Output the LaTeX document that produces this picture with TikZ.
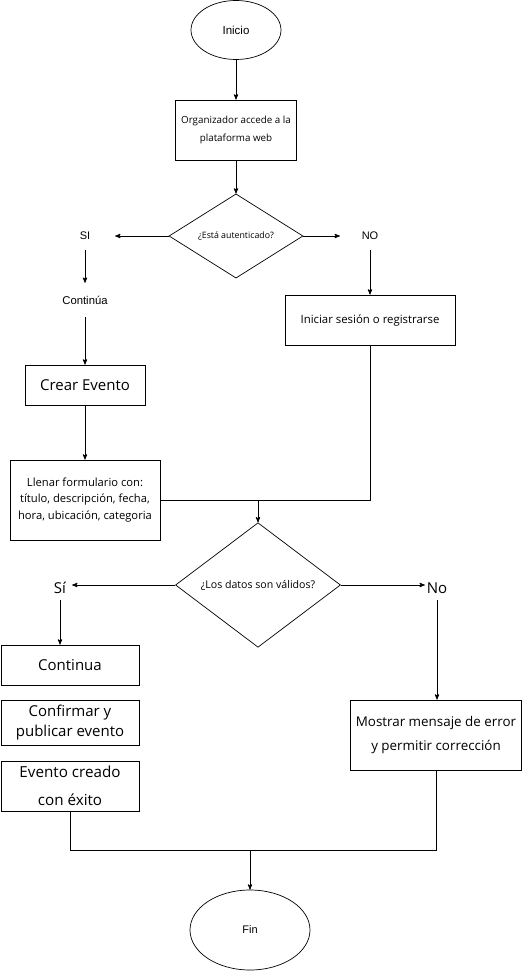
\documentclass[tikz,border=0pt]{standalone}
\usepackage{fontspec}
\setmainfont{Open Sans}
\newfontfamily\helv{Liberation Sans}
\usetikzlibrary{shapes.geometric, arrows}
\tikzset{
  block/.style={
    rectangle,
    draw=black,
    line width=0.9pt,
    inner sep=0pt,
    align=center
  },
  decision/.style={diamond, draw=black, line width=0.7pt, inner sep=0pt, align=center},
  terminal/.style={ellipse, draw=black, line width=0.7pt, inner sep=0pt},
  tag/.style={inner sep=0pt, align=center}
}
\tikzstyle{arrow} = [->, > = stealth', line width=0.9pt]
\def\txt#1#2{\fontsize{#1}{#2}\selectfont}

\begin{document}
\begin{tikzpicture}[x=1pt, y=-1pt]
    \useasboundingbox (0,0) rectangle (528,971);
    \node[terminal, minimum width=90, minimum height=59, font=\helv\txt{11.5}{14}] (b0) at (236,30) {Inicio};
    \node[block, minimum width=121, minimum height=60, font=\txt{9.8}{18}] (b1) at (236,130) {Organizador accede a la\\plataforma web};
    \node[decision, minimum width=134, minimum height=79, font=\txt{8.8}{11}] (d0) at (236,236) {¿Está autenticado?};
    \node[tag, minimum width=60, minimum height=28, font=\helv\txt{11}{13}] (si) at (85,236) {SI};
    \node[tag, minimum width=60, minimum height=28, font=\helv\txt{11}{13}] (no) at (370,236) {NO};
    \node[tag, minimum width=60, minimum height=34, font=\helv\txt{11.3}{13}] (cont) at (85,300) {Continúa};
    \node[block, minimum width=120, minimum height=40, font=\txt{15}{18}] (b2) at (85,385) {Crear Evento};
    \node[block, minimum width=170, minimum height=50, font=\txt{11.4}{14}] (b3) at (370,320) {Iniciar sesión o registrarse};
    \node[block, minimum width=150, minimum height=80, font=\txt{11.2}{16.5}] (b4) at (85,500) {Llenar formulario con:\\título, descripción, fecha,\\hora, ubicación, categoria};
    \coordinate (j1) at (258,500);
    \node[decision, minimum width=165, minimum height=120, font=\txt{10.6}{12}] (d1) at (258,585) {¿Los datos son válidos?};
    \node[tag, minimum width=24, minimum height=24, font=\txt{15}{18}] (si2) at (60,588) {Sí};
    \node[tag, minimum width=24, minimum height=24, font=\txt{15}{18}] (no2) at (437,588) {No};
    \node[block, minimum width=138, minimum height=40, font=\txt{15}{18}] (b5) at (70,665) {Continua};
    \node[block, minimum width=138, minimum height=45, font=\txt{15}{20}] (b6) at (70,722.5) {Confirmar y\\publicar evento};
    \node[block, minimum width=138, minimum height=50, font=\txt{15.2}{28}] (b7) at (70,786) {Evento creado\\con éxito};
    \node[block, minimum width=171, minimum height=70, font=\txt{13.4}{24}] (b8) at (436,735) {Mostrar mensaje de error\\y permitir corrección};
    \coordinate (j2) at (250,850);
    \node[terminal, minimum width=120, minimum height=80, font=\helv\txt{11}{13}] (fin) at (250,930) {Fin};
    \draw[arrow] (b0) -- (b1);
    \draw[arrow] (b1) -- (d0);
    \draw[arrow] (d0) -- (si);
    \draw[arrow] (d0) -- (no);
    \draw[arrow] (si) -- (cont);
    \draw[arrow] (cont) -- (b2);
    \draw[arrow] (b2) -- (b4);
    \draw[arrow] (no) -- (b3);
    \draw[line width=0.9pt] (b3) |- (b4);
    \draw[arrow] (j1) -- (d1);
    \draw[arrow] (d1.west) -- (d1.west -| si2.east);
    \draw[arrow] (d1.east) -- (d1.east -| no2.west);
    \draw[arrow] (si2) -- (si2 |- b5.north);
    \draw[arrow] (no2) -- (no2 |- b8.north);
    \draw[line width=0.9pt] (b7) |- (j2) -| (b8);
    \draw[arrow] (j2) -- (fin);
\end{tikzpicture}
\end{document}
